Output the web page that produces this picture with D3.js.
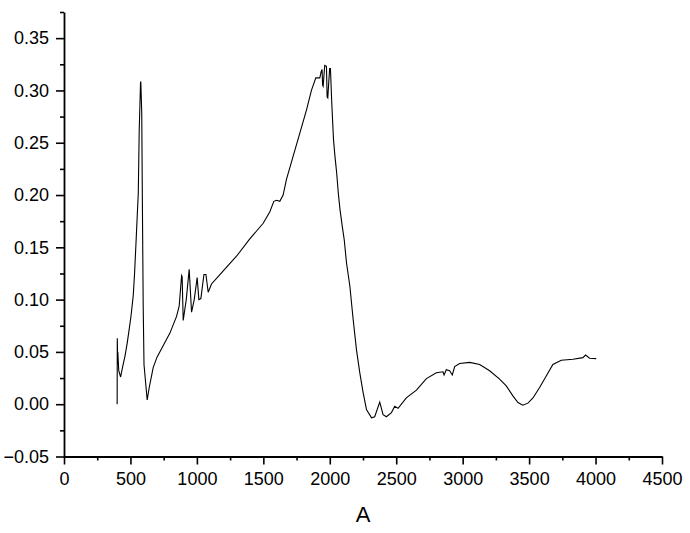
<!DOCTYPE html>
<html>
<head>
<meta charset="utf-8">
<script src="https://cdn.jsdelivr.net/npm/d3@7"></script>
<style>
  body { margin: 0; background: #fff; }
  svg text { font-family: "Liberation Sans", Arial, sans-serif; fill: #000; }
</style>
</head>
<body>
<div id="chart"></div>
<script>
"use strict";
// spectrum
const waveNumber = [400, 401, 403, 405, 412, 426, 440, 459, 475, 491, 505, 521, 531, 541, 559, 566, 576, 578, 585, 590, 596, 602, 626,
  640, 671, 700, 746, 797, 847, 867, 885, 889, 897, 920, 942, 960, 980, 1002, 1015, 1030, 1053, 1068, 1085, 1110,
  1173, 1298, 1398, 1499, 1549, 1579, 1600, 1624, 1649, 1674, 1699, 1774, 1824, 1862, 1895, 1925, 1935, 1942, 1946, 1950,
  1962, 1975, 1980, 1985, 1999, 2005, 2015, 2028, 2039, 2052, 2064, 2077, 2094, 2109, 2126, 2151, 2176, 2201, 2226, 2251, 2276, 2314,
  2338, 2376, 2401, 2426, 2464, 2489, 2514, 2576, 2652, 2727, 2802, 2852, 2860, 2877, 2902, 2922, 2940, 2977, 3053,
  3128, 3203, 3278, 3328, 3378, 3416, 3453, 3491, 3529, 3579, 3629, 3679, 3742, 3830, 3905, 3925, 3955, 4005];
const absorbance = [0.000, 0.063, 0.048, 0.050, 0.032, 0.026, 0.035, 0.046, 0.058, 0.072, 0.085, 0.104, 0.125, 0.152, 0.202, 0.262, 0.308, 0.308, 0.279, 0.190, 0.094, 0.038, 0.004,
  0.015, 0.035, 0.045, 0.056, 0.068, 0.084, 0.094, 0.123, 0.122, 0.080, 0.100, 0.129, 0.088, 0.100, 0.121, 0.100, 0.101, 0.124, 0.124, 0.107, 0.115,
  0.124, 0.1415, 0.158, 0.173, 0.184, 0.194, 0.195, 0.194, 0.200, 0.215, 0.226, 0.259, 0.281, 0.300, 0.312, 0.312, 0.318, 0.320, 0.305, 0.304,
  0.324, 0.323, 0.294, 0.293, 0.321, 0.321, 0.288, 0.253, 0.237, 0.221, 0.202, 0.186, 0.170, 0.157, 0.135, 0.113, 0.081, 0.052, 0.030, 0.011, -0.005, -0.013,
  -0.012, 0.002, -0.010, -0.012, -0.008, -0.002, -0.004, 0.006, 0.0135, 0.0245, 0.030, 0.031, 0.028, 0.033, 0.032, 0.028, 0.036, 0.039, 0.040,
  0.038, 0.032, 0.024, 0.0175, 0.008, 0.0016, -0.001, 0.001, 0.006, 0.016, 0.027, 0.038, 0.042, 0.043, 0.0445, 0.047, 0.044, 0.0436];

const xTicks = [0, 500, 1000, 1500, 2000, 2500, 3000, 3500, 4000, 4500];
const xMinor = [250, 750, 1250, 1750, 2250, 2750, 3250, 3750, 4250];
const yTicks = [-0.05, 0.00, 0.05, 0.10, 0.15, 0.20, 0.25, 0.30, 0.35];
const yMinor = [-0.025, 0.025, 0.075, 0.125, 0.175, 0.225, 0.275, 0.325, 0.375];
const xTitle = "A";

const width = 690, height = 533;
const margin = { top: 12, right: 28, bottom: 76.5, left: 64 };

const svg = d3.select("#chart").append("svg")
  .attr("width", width)
  .attr("height", height);

const x = d3.scaleLinear()
  .domain([0, 4500])
  .range([margin.left, width - margin.right]);
const y = d3.scaleLinear()
  .domain([-0.05, 0.375])
  .range([height - margin.bottom, margin.top]);

// minor ticks first, then the main axes on top
svg.append("g")
  .attr("transform", "translate(0," + (height - margin.bottom) + ")")
  .call(d3.axisBottom(x).tickValues(xMinor).tickSize(4).tickFormat(""))
  .call(g => g.select(".domain").remove());
svg.append("g")
  .attr("transform", "translate(" + margin.left + ",0)")
  .call(d3.axisLeft(y).tickValues(yMinor).tickSize(4).tickFormat(""))
  .call(g => g.select(".domain").remove());

const xAxis = svg.append("g")
  .attr("transform", "translate(0," + (height - margin.bottom) + ")")
  .call(d3.axisBottom(x).tickValues(xTicks).tickSize(8).tickSizeOuter(0).tickPadding(8).tickFormat(d3.format("d")));
const yAxis = svg.append("g")
  .attr("transform", "translate(" + margin.left + ",0)")
  .call(d3.axisLeft(y).tickValues(yTicks).tickSize(8).tickSizeOuter(0).tickPadding(7).tickFormat(d3.format(".2f")));

svg.selectAll(".tick line").attr("stroke", "#000").attr("stroke-width", 1.6);
svg.selectAll(".domain").attr("stroke", "#000").attr("stroke-width", 1.8);
svg.selectAll(".tick text")
  .style("font-family", "'Liberation Sans', Arial, sans-serif")
  .style("font-size", "18px")
  .attr("fill", "#000");

// axis title
svg.append("text")
  .attr("x", (margin.left + width - margin.right) / 2)
  .attr("y", 522)
  .attr("text-anchor", "middle")
  .style("font-size", "22px")
  .text(xTitle);

// spectrum line
const points = waveNumber.map((w, i) => [w, absorbance[i]]);
const line = d3.line()
  .x(d => x(d[0]))
  .y(d => y(d[1]));

svg.append("path")
  .datum(points)
  .attr("fill", "none")
  .attr("stroke", "#000")
  .attr("stroke-width", 1.1)
  .attr("d", line);
</script>
</body>
</html>
